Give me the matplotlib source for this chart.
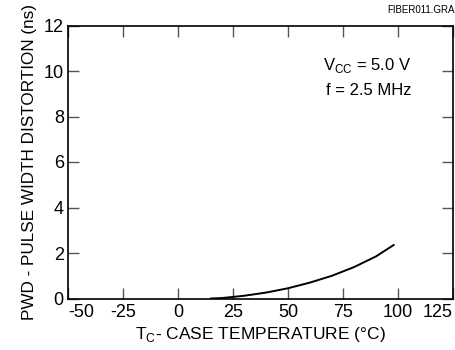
import matplotlib
matplotlib.use('Agg')
import matplotlib.pyplot as plt

# 曲线数据
temp_c = [15, 20, 25, 30, 40, 50, 60, 70, 80, 90, 98]
pwd_ns = [0.0, 0.02, 0.07, 0.12, 0.26, 0.45, 0.70, 1.00, 1.38, 1.85, 2.35]

x_ticks = [-50, -25, 0, 25, 50, 75, 100, 125]
y_ticks = [0, 2, 4, 6, 8, 10, 12]

plt.rcParams['font.family'] = ['Liberation Sans', 'DejaVu Sans']

fig = plt.figure(figsize=(4.56, 3.5), dpi=100)
ax = fig.add_axes([68 / 456, 1 - 298.5 / 350, (453 - 68) / 456, (298.5 - 25.5) / 350])

ax.plot(temp_c, pwd_ns, color='black', lw=1.4)

ax.set_xlim(-50, 125)
ax.set_ylim(0, 12)
ax.set_xticks(x_ticks)
ax.set_yticks(y_ticks)
ax.set_xticklabels([str(t) for t in x_ticks], fontsize=13)
ax.set_yticklabels([str(t) for t in y_ticks], fontsize=13)
labels = ax.get_xticklabels()
labels[0].set_horizontalalignment('left')
labels[-1].set_horizontalalignment('right')

ax.tick_params(direction='in', length=8, width=1, top=True, right=True,
               pad=4, color='#555555')
ax.tick_params(axis='y', pad=3)
for sp in ax.spines.values():
    sp.set_linewidth(1.2)

ax.set_xlabel('T$_\\mathregular{C}$- CASE TEMPERATURE (°C)', fontsize=12.5, labelpad=3)
ax.set_ylabel('PWD - PULSE WIDTH DISTORTION (ns)', fontsize=12.3, labelpad=5)

ax.text(106, 10.26, 'V$_\\mathregular{CC}$ = 5.0 V', fontsize=12, ha='right', va='center')
ax.text(106, 9.16, 'f = 2.5 MHz', fontsize=12, ha='right', va='center')

fig.text(455 / 456, 1 - 10 / 350, 'FIBER011.GRA', fontsize=7, va='center', ha='right')

fig.savefig('out.png', dpi=100)
